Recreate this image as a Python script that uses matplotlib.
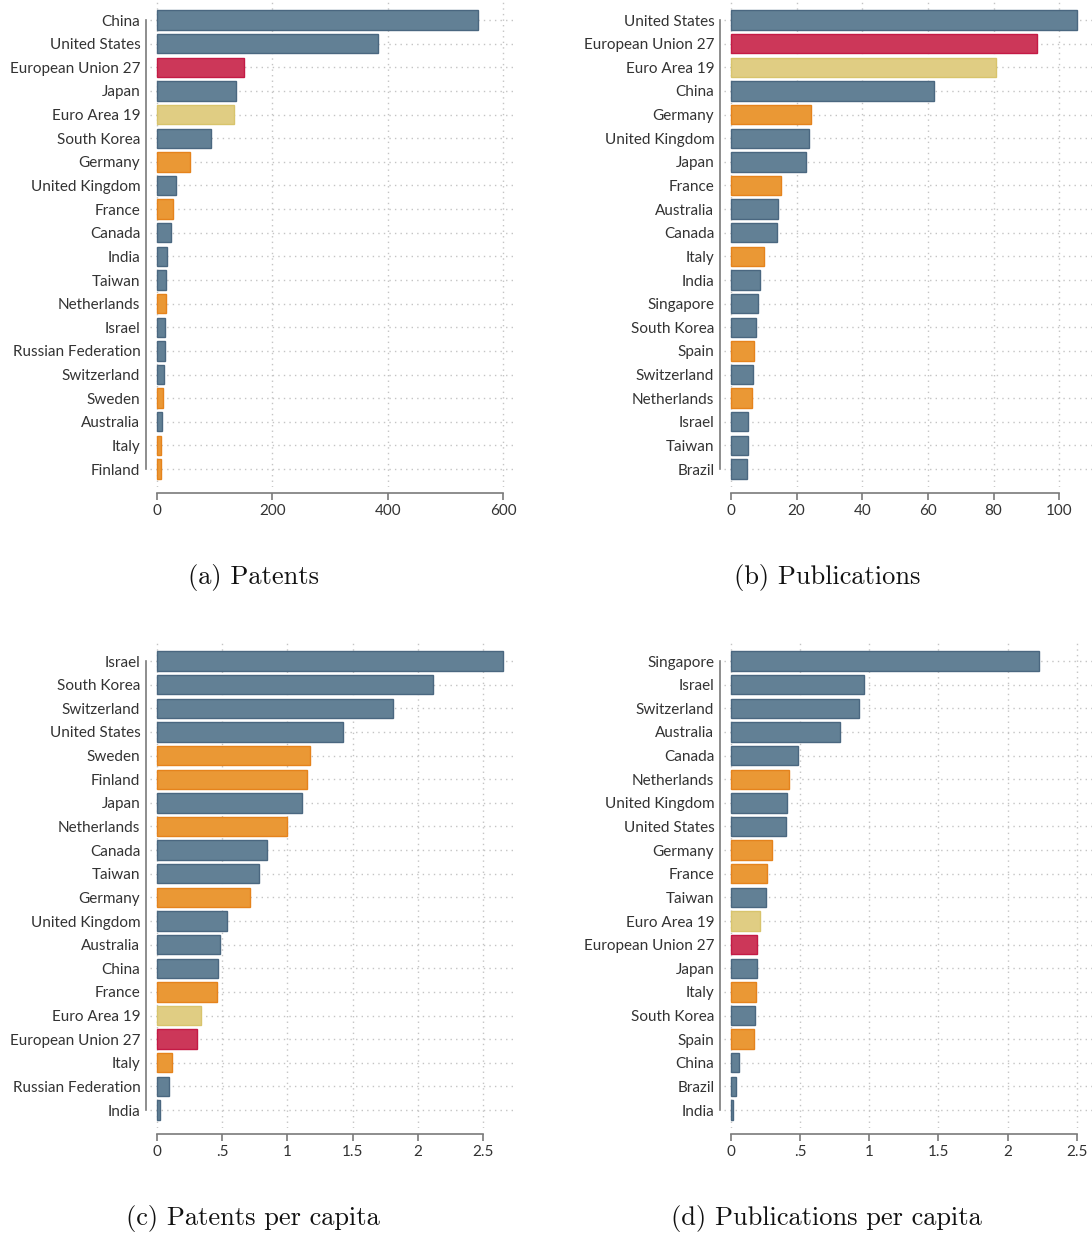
import numpy as np
import matplotlib.pyplot as plt

# Данные по панелям
pat_names = ['China', 'United States', 'European Union 27', 'Japan', 'Euro Area 19',
             'South Korea', 'Germany', 'United Kingdom', 'France', 'Canada', 'India',
             'Taiwan', 'Netherlands', 'Israel', 'Russian Federation', 'Switzerland',
             'Sweden', 'Australia', 'Italy', 'Finland']
pat_vals = [557, 383, 151, 137, 133, 94, 57, 33, 28, 24, 17, 16, 15, 14, 14, 13, 10, 9, 7, 7]

pub_names = ['United States', 'European Union 27', 'Euro Area 19', 'China', 'Germany',
             'United Kingdom', 'Japan', 'France', 'Australia', 'Canada', 'Italy', 'India',
             'Singapore', 'South Korea', 'Spain', 'Switzerland', 'Netherlands', 'Israel',
             'Taiwan', 'Brazil']
pub_vals = [105.5, 93.3, 80.8, 61.9, 24.4, 23.8, 22.9, 15.2, 14.3, 14.0, 10.1, 8.8,
            8.2, 7.6, 7.0, 6.7, 6.4, 5.2, 5.2, 4.9]

patpc_names = ['Israel', 'South Korea', 'Switzerland', 'United States', 'Sweden', 'Finland',
               'Japan', 'Netherlands', 'Canada', 'Taiwan', 'Germany', 'United Kingdom',
               'Australia', 'China', 'France', 'Euro Area 19', 'European Union 27', 'Italy',
               'Russian Federation', 'India']
patpc_vals = [2.65, 2.12, 1.81, 1.43, 1.17, 1.15, 1.11, 1.00, 0.84, 0.78, 0.71, 0.54,
              0.48, 0.47, 0.46, 0.34, 0.31, 0.115, 0.09, 0.02]

pubpc_names = ['Singapore', 'Israel', 'Switzerland', 'Australia', 'Canada', 'Netherlands',
               'United Kingdom', 'United States', 'Germany', 'France', 'Taiwan', 'Euro Area 19',
               'European Union 27', 'Japan', 'Italy', 'South Korea', 'Spain', 'China',
               'Brazil', 'India']
pubpc_vals = [2.23, 0.96, 0.925, 0.79, 0.485, 0.42, 0.405, 0.40, 0.30, 0.26, 0.255, 0.21,
              0.19, 0.19, 0.18, 0.175, 0.17, 0.055, 0.035, 0.015]

europe = {'Germany', 'France', 'Italy', 'Netherlands', 'Spain', 'Sweden', 'Finland'}

W, H = 1092, 1234


def colors_for(name):
    if name == 'European Union 27':
        return '#cc3759', '#c41a45'
    if name == 'Euro Area 19':
        return '#e0cd83', '#d8c46c'
    if name in europe:
        return '#ea9835', '#e5831c'
    return '#628095', '#4a6780'


def panel(fig, px, names, vals, xlim, ticks, ticklabels, caption, cap_x, cap_y):
    # px = (left, top, right, bottom) в пикселях
    l, t, r, b = px
    ax = fig.add_axes([l / W, 1 - b / H, (r - l) / W, (b - t) / H])
    y = np.arange(len(names))
    fc = [colors_for(n)[0] for n in names]
    ec = [colors_for(n)[1] for n in names]
    ax.barh(y, vals, height=0.82, color=fc, edgecolor=ec, linewidth=1.0, zorder=3)
    ax.set_ylim(len(names) - 1 + 0.76, -0.85)
    ax.set_xlim(*xlim)
    for yy in y:
        ax.axhline(yy, color='#c4c4c4', lw=1.0, ls=(0, (1, 3)), zorder=1)
    for xx in ticks:
        ax.axvline(xx, color='#c4c4c4', lw=1.0, ls=(0, (1, 3)), zorder=1)
    ax.set_yticks(y)
    ax.set_yticklabels(names)
    ax.set_xticks(ticks)
    ax.set_xticklabels(ticklabels)
    ax.tick_params(axis='y', length=0, pad=4, labelsize=11, labelcolor='#333333')
    ax.tick_params(axis='x', length=5, width=1.2, color='#7a7a7a', pad=3,
                   labelsize=11, labelcolor='#333333')
    for s in ['top', 'right']:
        ax.spines[s].set_visible(False)
    ax.spines['left'].set_position(('outward', 3))
    ax.spines['left'].set_bounds(0, len(names) - 1)
    ax.spines['bottom'].set_position(('outward', 4))
    ax.spines['bottom'].set_bounds(ticks[0], ticks[-1])
    for s in ['left', 'bottom']:
        ax.spines[s].set_color('#7a7a7a')
        ax.spines[s].set_linewidth(1.2)
    fig.text(cap_x / W, 1 - cap_y / H, caption, family='cmr10', fontsize=19,
             ha='center', va='center', color='#111111')
    return ax


plt.rcParams['font.family'] = ['Lato', 'DejaVu Sans']
fig = plt.figure(figsize=(W / 100, H / 100), dpi=100)

panel(fig, (150, 0, 516, 487), pat_names, pat_vals, (-12, 622.5),
      [0, 200, 400, 600], ['0', '200', '400', '600'], '(a) Patents', 253, 577)
panel(fig, (724, 0, 1092, 487), pub_names, pub_vals, (-2.1, 110),
      [0, 20, 40, 60, 80, 100], ['0', '20', '40', '60', '80', '100'],
      '(b) Publications', 827, 577)
panel(fig, (150, 641, 516, 1128), patpc_names, patpc_vals, (-0.054, 2.753),
      [0, 0.5, 1, 1.5, 2, 2.5], ['0', '.5', '1', '1.5', '2', '2.5'],
      '(c) Patents per capita', 253, 1218)
panel(fig, (724, 641, 1092, 1128), pubpc_names, pubpc_vals, (-0.05, 2.61),
      [0, 0.5, 1, 1.5, 2, 2.5], ['0', '.5', '1', '1.5', '2', '2.5'],
      '(d) Publications per capita', 826, 1218)

fig.savefig('out.png', dpi=100)
